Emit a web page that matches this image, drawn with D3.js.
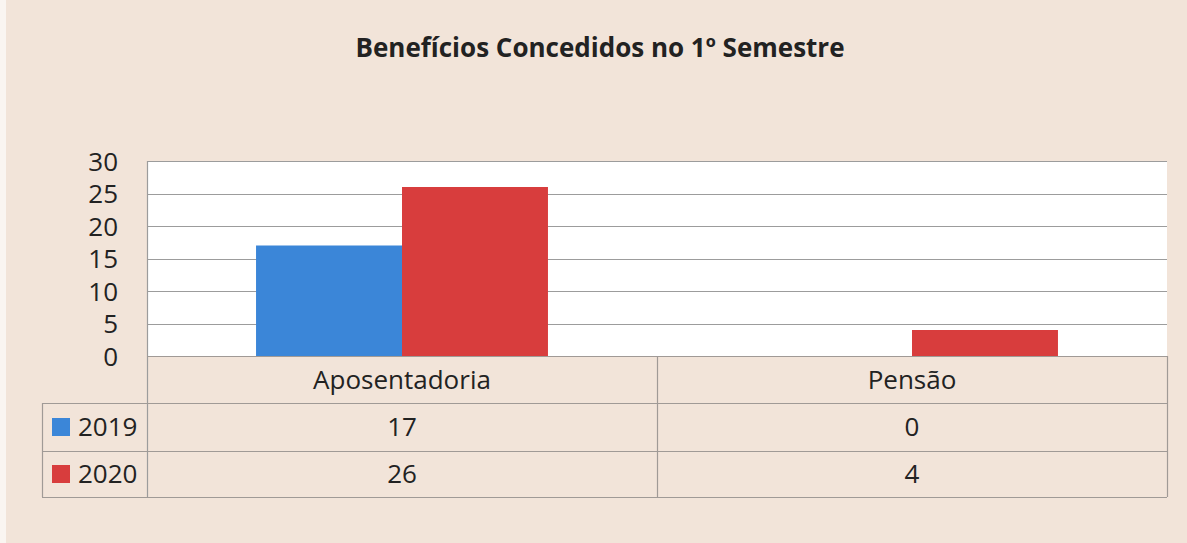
<!DOCTYPE html>
<html><head><meta charset="utf-8">
<script src="https://cdn.jsdelivr.net/npm/d3@7"></script>
<style>
html,body{margin:0;padding:0;background:#f2e4d9;}
svg{display:block;}
text{font-family:"Open Sans",sans-serif;fill:#222;}
</style></head>
<body>
<svg id="chart" width="1187" height="543"></svg>
<script>
const title = "Benefícios Concedidos no 1º Semestre";
const categories = ["Aposentadoria", "Pensão"];
const seriesNames = ["2019", "2020"];
const values2019 = [17, 0];
const values2020 = [26, 4];
const seriesValues = [values2019, values2020];
const colors = ["#3b86d8", "#d83d3d"];
const yTicks = [0, 5, 10, 15, 20, 25, 30];

const svg = d3.select("#chart");
const W = 1187, H = 543;
const plot = {left: 147, right: 1167, top: 161, bottom: 356};
const tableLeft = 42;
const rowH = [356, 403, 451, 497];

// background
svg.append("rect").attr("width", W).attr("height", H).attr("fill", "#f2e4d9");
svg.append("rect").attr("width", 6).attr("height", H).attr("fill", "#faf5f1");

// title
svg.append("text").attr("x", 600).attr("y", 57).attr("text-anchor", "middle")
  .style("font-size", "26px").style("font-weight", "bold").text(title);

const x = d3.scaleBand().domain(categories).range([plot.left, plot.right]).paddingInner(0).paddingOuter(0);
const xs = d3.scaleBand().domain(seriesNames).range([0, x.bandwidth()]).paddingInner(0).paddingOuter(0.747);
const y = d3.scaleLinear().domain([0, 30]).range([plot.bottom, plot.top]);

// plot area
svg.append("rect").attr("x", plot.left).attr("y", plot.top).attr("width", plot.right-plot.left)
  .attr("height", plot.bottom-plot.top).attr("fill", "#ffffff");

// gridlines
svg.append("g").selectAll("line").data(yTicks).join("line")
  .attr("x1", plot.left).attr("x2", plot.right)
  .attr("y1", d => Math.round(y(d))+0.5).attr("y2", d => Math.round(y(d))+0.5)
  .attr("stroke", "#9c9c9c").attr("stroke-width", 1.2);

// y axis labels
const yAxis = d3.axisLeft(y).tickValues(yTicks).tickSize(0).tickPadding(0);
const ga = svg.append("g").attr("transform", `translate(118,0)`).call(yAxis);
ga.select(".domain").remove();
ga.selectAll("text").style("font-size", "26px").style("font-family", '"Open Sans",sans-serif').attr("fill", "#222").attr("dy", "0.36em");

// bars
seriesNames.forEach((s, si) => {
  svg.append("g").selectAll("rect").data(categories.map((c, ci) => ({c, v: seriesValues[si][ci]})))
    .join("rect")
    .attr("x", d => x(d.c) + xs(s))
    .attr("width", xs.bandwidth())
    .attr("y", d => y(d.v))
    .attr("height", d => y(0) - y(d.v))
    .attr("fill", colors[si]);
});

// plot left border
svg.append("line").attr("x1", plot.left+0.5).attr("x2", plot.left+0.5).attr("y1", plot.top).attr("y2", rowH[3])
  .attr("stroke", "#9c9c9c").attr("stroke-width", 1.2);

// data table
const tg = svg.append("g");
const lineColor = "#a09a96";
tg.append("line").attr("x1", plot.left).attr("x2", plot.right).attr("y1", rowH[0]+0.5).attr("y2", rowH[0]+0.5).attr("stroke", lineColor).attr("stroke-width", 1.2);
[1,2,3].forEach(i => {
  tg.append("line").attr("x1", tableLeft).attr("x2", plot.right).attr("y1", rowH[i]+0.5).attr("y2", rowH[i]+0.5).attr("stroke", lineColor).attr("stroke-width", 1.2);
});
tg.append("line").attr("x1", tableLeft+0.5).attr("x2", tableLeft+0.5).attr("y1", rowH[1]).attr("y2", rowH[3]).attr("stroke", lineColor).attr("stroke-width", 1.2);
categories.forEach(c => {
  tg.append("line").attr("x1", x(c)+x.bandwidth()+0.5).attr("x2", x(c)+x.bandwidth()+0.5).attr("y1", rowH[0]).attr("y2", rowH[3]).attr("stroke", lineColor).attr("stroke-width", 1.2);
});
tg.selectAll("text.cat").data(categories).join("text").attr("class", "cat")
  .attr("x", c => x(c) + x.bandwidth()/2).attr("y", (rowH[0]+rowH[1])/2).attr("dy", "0.36em")
  .attr("text-anchor", "middle").style("font-size", "26px").text(c => c);
seriesNames.forEach((s, si) => {
  const cy = (rowH[si+1] + rowH[si+2]) / 2;
  tg.append("rect").attr("x", 52).attr("y", cy-9).attr("width", 18).attr("height", 18).attr("fill", colors[si]);
  tg.append("text").attr("x", 78).attr("y", cy).attr("dy", "0.36em").style("font-size", "26px").text(s);
  tg.selectAll(null).data(categories).join("text")
    .attr("x", c => x(c) + x.bandwidth()/2).attr("y", cy).attr("dy", "0.36em")
    .attr("text-anchor", "middle").style("font-size", "26px")
    .text((c, ci) => seriesValues[si][ci]);
});
</script>
</body></html>
